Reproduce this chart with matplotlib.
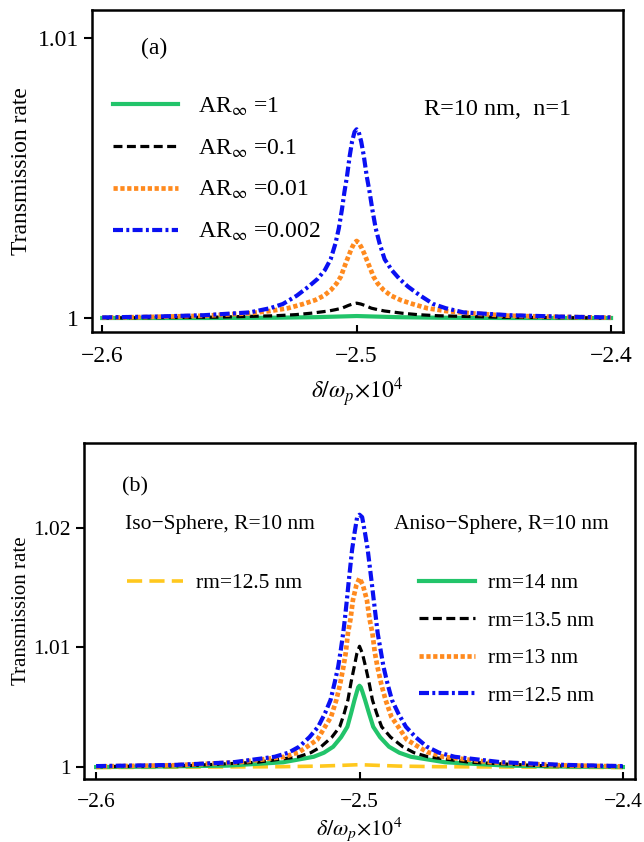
import matplotlib
matplotlib.use('Agg')
import matplotlib.pyplot as plt

plt.rcParams['font.family'] = ['Liberation Serif', 'DejaVu Serif']
plt.rcParams['mathtext.fontset'] = 'stix'
plt.rcParams['axes.unicode_minus'] = True

# ---- panel (a): R=10 nm, n=1 ----
a_green_x = [-2.6, -2.56, -2.532, -2.516, -2.508, -2.504, -2.5, -2.496, -2.492, -2.484, -2.468, -2.44, -2.4]
a_green_y = [1.0, 1.0, 1.00001, 1.00003, 1.00005, 1.00006, 1.00007, 1.00006, 1.00005, 1.00003, 1.00001, 1.0, 1.0]

a_black_x = [-2.6, -2.58, -2.555, -2.532, -2.524, -2.518, -2.511, -2.5082, -2.5058, -2.5045, -2.5032, -2.5016, -2.5,
             -2.4984, -2.4968, -2.4955, -2.4942, -2.4918, -2.489, -2.482, -2.476, -2.468, -2.445, -2.42, -2.4]
a_black_y = [1.0, 1.00001, 1.00003, 1.00008, 1.00012, 1.00017, 1.00025, 1.0003, 1.00035, 1.0004, 1.00045, 1.0005, 1.00053,
             1.0005, 1.00045, 1.0004, 1.00035, 1.0003, 1.00025, 1.00017, 1.00012, 1.00008, 1.00003, 1.00001, 1.0]

a_orange_x = [-2.6, -2.58, -2.56, -2.542, -2.534, -2.527, -2.521, -2.5163, -2.5128, -2.5101, -2.5079, -2.5062,
              -2.505, -2.5038, -2.5028, -2.5019, -2.5009, -2.5,
              -2.4991, -2.498, -2.497, -2.496, -2.4947, -2.4934, -2.4917, -2.4894, -2.4865, -2.4827, -2.478,
              -2.4723, -2.465, -2.4555, -2.44, -2.42, -2.4]
a_orange_y = [1.00001, 1.00004, 1.00008, 1.00017, 1.00025, 1.00035, 1.0005, 1.00064, 1.0008, 1.001, 1.00123, 1.00148,
              1.00178, 1.00207, 1.0023, 1.0025, 1.00268, 1.00275,
              1.00268, 1.0025, 1.0023, 1.00207, 1.00178, 1.00148, 1.00123, 1.001, 1.0008, 1.00064, 1.0005,
              1.00035, 1.00025, 1.00017, 1.00008, 1.00004, 1.00001]

a_blue_x = [-2.6, -2.58, -2.56, -2.542, -2.534, -2.529, -2.5235, -2.5189, -2.5153, -2.5125, -2.5102, -2.5083,
            -2.507, -2.5058, -2.5048, -2.5038, -2.5027, -2.5018, -2.5008, -2.5,
            -2.4992, -2.4982, -2.4972, -2.496, -2.4949, -2.4938, -2.4925, -2.491, -2.489, -2.4862, -2.4832,
            -2.4798, -2.475, -2.4699, -2.465, -2.458, -2.44, -2.42, -2.4]
a_blue_y = [1.00002, 1.00005, 1.0001, 1.0002, 1.00035, 1.0005, 1.0008, 1.00112, 1.0014, 1.00171, 1.0021, 1.00267,
            1.0032, 1.00386, 1.0045, 1.00505, 1.0058, 1.0063, 1.00665, 1.00674,
            1.00665, 1.0063, 1.0058, 1.00505, 1.0045, 1.00386, 1.0032, 1.00267, 1.0021, 1.00171, 1.0014,
            1.00112, 1.0008, 1.0005, 1.00035, 1.0002, 1.0001, 1.00005, 1.00002]

a_labels = [r'AR$_{\infty}$ =1', r'AR$_{\infty}$ =0.1', r'AR$_{\infty}$ =0.01', r'AR$_{\infty}$ =0.002']

# ---- panel (b): R=10 nm ----
b_yellow_x = [-2.6, -2.56, -2.53, -2.515, -2.507, -2.5, -2.493, -2.485, -2.47, -2.44, -2.4]
b_yellow_y = [0.99996, 1.0, 1.00003, 1.00008, 1.00014, 1.0002, 1.00014, 1.00008, 1.00003, 1.0, 0.99996]

b_green_x = [-2.6, -2.58, -2.55, -2.529, -2.5174, -2.5135, -2.51, -2.507, -2.5046, -2.5032, -2.5019, -2.501, -2.5005, -2.5,
             -2.4995, -2.4989, -2.4979, -2.4964, -2.4948, -2.4922, -2.4888, -2.4849, -2.4805, -2.4675, -2.444, -2.42, -2.4]
b_green_y = [1.0, 1.00003, 1.00012, 1.0004, 1.00086, 1.0012, 1.0017, 1.0025, 1.00337, 1.0045, 1.00561, 1.0063, 1.00667, 1.0068,
             1.00667, 1.0063, 1.00561, 1.0045, 1.00337, 1.0025, 1.0017, 1.0012, 1.00086, 1.0004, 1.00012, 1.00003, 1.0]

b_black_x = [-2.6, -2.565, -2.539, -2.5232, -2.5185, -2.5146, -2.5105, -2.5075, -2.5058, -2.5044, -2.5032, -2.502, -2.501, -2.5,
             -2.4989, -2.4977, -2.4964, -2.4951, -2.4935, -2.4916, -2.4882, -2.4836, -2.4793, -2.474, -2.458, -2.432, -2.4]
b_black_y = [1.00003, 1.00012, 1.0004, 1.00086, 1.0012, 1.0017, 1.0025, 1.00337, 1.0045, 1.00561, 1.0071, 1.00839, 1.0095, 1.0101,
             1.0095, 1.00839, 1.0071, 1.00561, 1.0045, 1.00337, 1.0025, 1.0017, 1.0012, 1.00086, 1.0004, 1.00012, 1.00003]

b_orange_x = [-2.6, -2.57, -2.546, -2.5284, -2.523, -2.5199, -2.516, -2.5131, -2.5108, -2.5088, -2.5074, -2.5061,
              -2.5052, -2.5044, -2.5034, -2.5025, -2.5012, -2.5,
              -2.4987, -2.4972, -2.4962, -2.4951, -2.4942, -2.4932, -2.4917, -2.4901, -2.4879, -2.4853, -2.4821,
              -2.4777, -2.4742, -2.4682, -2.45, -2.425, -2.4]
b_orange_y = [1.00005, 1.00015, 1.0004, 1.00086, 1.00125, 1.0017, 1.0023, 1.00337, 1.0042, 1.00561, 1.0069, 1.00839,
              1.0096, 1.01119, 1.0124, 1.01397, 1.0152, 1.0158,
              1.0152, 1.01397, 1.0124, 1.01119, 1.0096, 1.00839, 1.0069, 1.00561, 1.0042, 1.00337, 1.0023,
              1.0017, 1.00125, 1.00086, 1.0004, 1.00015, 1.00005]

b_blue_x = [-2.6, -2.57, -2.548, -2.5322, -2.527, -2.5229, -2.519, -2.5157, -2.5131, -2.511, -2.5095, -2.5081,
            -2.5071, -2.5062, -2.5055, -2.5048, -2.5042, -2.5035, -2.5028, -2.5019, -2.5009, -2.5,
            -2.499, -2.4979, -2.4969, -2.4961, -2.4953, -2.4946, -2.4938, -2.4931, -2.492, -2.4909, -2.4894,
            -2.4877, -2.4853, -2.4824, -2.4787, -2.4744, -2.4698, -2.4639, -2.446, -2.422, -2.4]
b_blue_y = [1.00008, 1.00018, 1.0004, 1.00086, 1.0012, 1.0017, 1.0025, 1.00337, 1.0045, 1.00561, 1.007, 1.00839,
            1.0098, 1.01119, 1.0125, 1.01397, 1.0153, 1.01676, 1.0182, 1.01956, 1.0209, 1.0211,
            1.0209, 1.01956, 1.0182, 1.01676, 1.0153, 1.01397, 1.0125, 1.01119, 1.0098, 1.00839, 1.007,
            1.00561, 1.0045, 1.00337, 1.0025, 1.0017, 1.0012, 1.00086, 1.0004, 1.00018, 1.00008]

b_iso_label = 'rm=12.5 nm'
b_labels = ['rm=14 nm', 'rm=13.5 nm', 'rm=13 nm', 'rm=12.5 nm']

x_ticks = [-2.6, -2.5, -2.4]
x_ticklabels = ['\u22122.6', '\u22122.5', '\u22122.4']

# line styles
c_green, c_orange, c_blue, c_yellow = '#22c46a', '#ff8a1e', '#0a10f2', '#ffc81e'
st_black = (0, (2.8, 1.4))
st_orange = (0, (0.9, 0.55))
st_blue = (0, (2.4, 0.8, 0.7, 0.8))
st_yellow = (0, (4.2, 2.0))

fig = plt.figure(figsize=(6.44, 8.42), dpi=100)
ax1 = fig.add_axes([0.1429, 0.6057, 0.8245, 0.3824])
ax2 = fig.add_axes([0.1304, 0.0748, 0.8557, 0.3991])

# panel (a)
ax1.plot(a_green_x, a_green_y, color=c_green, lw=3.0, label=a_labels[0])
ax1.plot(a_black_x, a_black_y, color='black', lw=2.3, linestyle=st_black, label=a_labels[1])
ax1.plot(a_orange_x, a_orange_y, color=c_orange, lw=3.4, linestyle=st_orange, label=a_labels[2])
ax1.plot(a_blue_x, a_blue_y, color=c_blue, lw=3.0, linestyle=st_blue, label=a_labels[3])
ax1.set_xlim(-2.604, -2.3953)
ax1.set_ylim(0.9995, 1.011)
ax1.set_yticks([1.0, 1.01])
ax1.set_yticklabels(['1', '1.01'])
ax1.legend(loc='upper left', bbox_to_anchor=(0.04, 0.735), frameon=False, fontsize=17,
           handlelength=2.75, handletextpad=0.85, labelspacing=0.83, borderpad=0, borderaxespad=0)
ax1.text(0.092, 0.882, '(a)', transform=ax1.transAxes, fontsize=17, ha='left', va='center')
ax1.text(0.625, 0.69, 'R=10 nm,  n=1', transform=ax1.transAxes, fontsize=17.5, ha='left', va='center')
ax1.set_ylabel('Transmission rate', fontsize=17)
ax1.set_xlabel(r'$\delta/\omega_{p}{\times}10^{4}$', fontsize=17, labelpad=6)

# panel (b)
l_y, = ax2.plot(b_yellow_x, b_yellow_y, color=c_yellow, lw=2.6, linestyle=st_yellow, label=b_iso_label)
l_g, = ax2.plot(b_green_x, b_green_y, color=c_green, lw=3.0, label=b_labels[0])
l_k, = ax2.plot(b_black_x, b_black_y, color='black', lw=2.3, linestyle=st_black, label=b_labels[1])
l_o, = ax2.plot(b_orange_x, b_orange_y, color=c_orange, lw=3.4, linestyle=st_orange, label=b_labels[2])
l_b, = ax2.plot(b_blue_x, b_blue_y, color=c_blue, lw=3.0, linestyle=st_blue, label=b_labels[3])
ax2.set_xlim(-2.6046, -2.3954)
ax2.set_ylim(0.9990, 1.0271)
ax2.set_yticks([1.0, 1.01, 1.02])
ax2.set_yticklabels(['1', '1.01', '1.02'])
leg_iso = ax2.legend(handles=[l_y], loc='upper left', bbox_to_anchor=(0.078, 0.613), frameon=False,
                     fontsize=15.5, handlelength=2.6, handletextpad=0.6, borderpad=0, borderaxespad=0)
ax2.add_artist(leg_iso)
ax2.legend(handles=[l_g, l_k, l_o, l_b], loc='upper left', bbox_to_anchor=(0.608, 0.613), frameon=False,
           fontsize=15.5, handlelength=2.6, handletextpad=0.6, labelspacing=0.81, borderpad=0, borderaxespad=0)
ax2.text(0.069, 0.87, '(b)', transform=ax2.transAxes, fontsize=16, ha='left', va='center')
ax2.text(0.074, 0.756, 'Iso\u2212Sphere, R=10 nm', transform=ax2.transAxes, fontsize=15.5, ha='left', va='center')
ax2.text(0.563, 0.756, 'Aniso\u2212Sphere, R=10 nm', transform=ax2.transAxes, fontsize=15.5, ha='left', va='center')
ax2.set_ylabel('Transmission rate', fontsize=15, labelpad=2)
ax2.set_xlabel(r'$\delta/\omega_{p}{\times}10^{4}$', fontsize=16, labelpad=2)

for ax, fs in ((ax1, 17), (ax2, 15.5)):
    ax.set_xticks(x_ticks)
    ax.set_xticklabels(x_ticklabels)
    ax.tick_params(axis='x', direction='in', length=5, width=1.5, labelsize=fs, pad=10, top=False)
    ax.tick_params(axis='y', direction='out', length=6, width=1.5, labelsize=fs, right=False)
    for s in ax.spines.values():
        s.set_linewidth(1.8)

fig.savefig('out.png', dpi=100)
